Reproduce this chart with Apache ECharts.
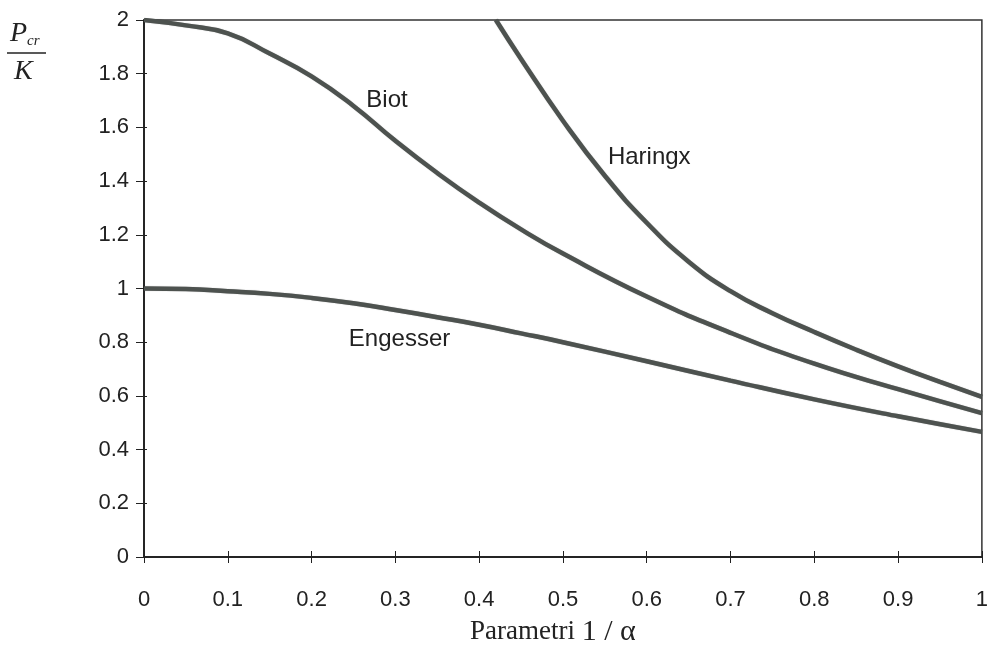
<!DOCTYPE html>
<html>
<head>
<meta charset="utf-8">
<script src="https://cdn.jsdelivr.net/npm/echarts@6/dist/echarts.min.js"></script>
<style>html,body{margin:0;padding:0;background:#fff}#c{width:991px;height:648px}</style>
</head>
<body>
<div id="c"></div>
<script>
// Data
const engesserX = [0, 0.05, 0.1, 0.15, 0.2, 0.25, 0.3, 0.35, 0.4, 0.45, 0.5, 0.6, 0.7, 0.8, 0.9, 1.0];
const engesserY = [1.0, 0.998, 0.99, 0.98, 0.965, 0.945, 0.92, 0.893, 0.865, 0.833, 0.80, 0.729, 0.657, 0.587, 0.524, 0.466];
const biotX = [0, 0.05, 0.1, 0.15, 0.2, 0.25, 0.3, 0.35, 0.4, 0.45, 0.5, 0.6, 0.7, 0.8, 0.9, 1.0];
const biotY = [2.0, 1.98, 1.95, 1.875, 1.79, 1.68, 1.55, 1.43, 1.32, 1.22, 1.13, 0.97, 0.835, 0.72, 0.625, 0.536];
const haringxX = [0.42, 0.45, 0.5, 0.55, 0.6, 0.65, 0.7, 0.75, 0.8, 0.85, 0.9, 0.95, 1.0];
const haringxY = [2.0, 1.855, 1.625, 1.42, 1.245, 1.10, 0.99, 0.908, 0.838, 0.772, 0.71, 0.652, 0.596];
const curveNames = ['Engesser', 'Biot', 'Haringx'];
const labelPos = { Engesser: [0.305, 0.81], Biot: [0.29, 1.70], Haringx: [0.603, 1.49] };
const xTicks = { min: 0, max: 1, interval: 0.1 };
const yTicks = { min: 0, max: 2, interval: 0.2 };

const zip = (xs, ys) => xs.map((x, i) => [x, ys[i]]);
const seriesData = { Engesser: zip(engesserX, engesserY), Biot: zip(biotX, biotY), Haringx: zip(haringxX, haringxY) };

const chart = echarts.init(document.getElementById('c'));
const lineColor = '#4d524f';
const axisColor = '#222';
const labelFont = { fontFamily: 'Liberation Sans, Arial, sans-serif', fontSize: 22, color: '#222' };
const serif = 'Liberation Serif, Times New Roman, serif';

const grid = { left: 144, right: 5, top: 20, bottom: 91, show: true, borderColor: '#333', borderWidth: 1.5, backgroundColor: 'transparent' };

const xBase = {
  type: 'value', min: xTicks.min, max: xTicks.max, interval: xTicks.interval, position: 'bottom',
  splitLine: { show: false },
  axisLine: { show: true, lineStyle: { color: axisColor, width: 1.5 } }
};
const yBase = {
  type: 'value', min: yTicks.min, max: yTicks.max, interval: yTicks.interval, position: 'left',
  splitLine: { show: false },
  axisLine: { show: true, lineStyle: { color: axisColor, width: 1.5 } }
};

chart.setOption({
  animation: false,
  grid: grid,
  xAxis: [
    Object.assign({}, xBase, {
      axisTick: { show: true, inside: false, length: 6, lineStyle: { color: axisColor, width: 1 } },
      axisLabel: Object.assign({ margin: 32 }, labelFont)
    }),
    Object.assign({}, xBase, {
      axisTick: { show: true, inside: true, length: 6, lineStyle: { color: axisColor, width: 1 } },
      axisLabel: { show: false }
    })
  ],
  yAxis: [
    Object.assign({}, yBase, {
      axisTick: { show: true, inside: false, length: 8, lineStyle: { color: axisColor, width: 1 } },
      axisLabel: Object.assign({ margin: 15 }, labelFont)
    }),
    Object.assign({}, yBase, {
      axisTick: { show: true, inside: true, length: 3, lineStyle: { color: axisColor, width: 1 } },
      axisLabel: { show: false }
    })
  ],
  series: curveNames.map(name => ({
    name: name,
    type: 'line',
    data: seriesData[name],
    smooth: 0.5,
    showSymbol: false,
    symbol: 'none',
    clip: true,
    lineStyle: { color: lineColor, width: 4.5, shadowColor: 'rgba(0,0,0,0.35)', shadowBlur: 1 },
    markPoint: {
      symbol: 'circle', symbolSize: 1,
      itemStyle: { color: 'rgba(0,0,0,0)' },
      label: Object.assign({ show: true, position: 'inside', formatter: name }, labelFont, { fontSize: 24 }),
      data: [{ coord: labelPos[name] }]
    }
  })),
  graphic: [
    {
      type: 'text', left: 470, top: 617,
      style: {
        text: '{a|Parametri }{b|1 / α}',
        rich: {
          a: { fontFamily: serif, fontSize: 27, fill: '#222' },
          b: { fontFamily: serif, fontSize: 30, fill: '#222' }
        }
      }
    },
    {
      type: 'text', left: 10, top: 20,
      style: {
        text: '{p|P}{s|cr}',
        rich: {
          p: { fontFamily: serif, fontStyle: 'italic', fontSize: 28, fill: '#222' },
          s: { fontFamily: serif, fontStyle: 'italic', fontSize: 15, fill: '#222', verticalAlign: 'bottom', padding: [14, 0, 0, 0] }
        }
      }
    },
    { type: 'line', shape: { x1: 7, y1: 53, x2: 46, y2: 53 }, style: { stroke: '#222', lineWidth: 1.5 } },
    {
      type: 'text', left: 14, top: 58,
      style: { text: 'K', fontFamily: serif, fontStyle: 'italic', fontSize: 28, fill: '#222' }
    }
  ]
});
</script>
</body>
</html>
